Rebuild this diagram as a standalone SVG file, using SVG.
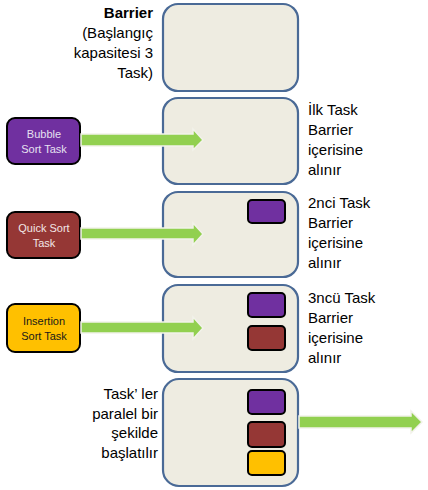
<svg xmlns="http://www.w3.org/2000/svg" width="428" height="490" viewBox="0 0 428 490">
<style>
.barrier{fill:#EEECE1;stroke:#4A6A96;stroke-width:2.2}
.task{stroke:#000;stroke-width:2}
.mini{stroke:#000;stroke-width:2}
.arrow{fill:#92D050;stroke:#F2F2EA;stroke-width:1.5}
.t{font-family:"Liberation Sans",Arial,sans-serif;font-size:15px;fill:#000}
.s{font-family:"Liberation Sans",Arial,sans-serif;font-size:11px;text-anchor:middle}
.purple{fill:#7030A0}.maroon{fill:#953735}.yellow{fill:#FFC000}
</style>
<rect width="428" height="490" fill="#fff"/>
<g id="barrier-empty">
<rect class="barrier" x="163" y="4" width="135" height="87" rx="15"/>
<text class="t" text-anchor="end"><tspan x="153" y="18" font-weight="bold">Barrier</tspan><tspan x="153" y="38">(Başlangıç</tspan><tspan x="153" y="58">kapasitesi 3</tspan><tspan x="153" y="78">Task)</tspan></text>
</g>
<g id="barrier-1">
<rect class="barrier" x="163" y="98" width="135" height="86" rx="15"/>
<text class="t"><tspan x="308" y="115">İlk Task</tspan><tspan x="308" y="135">Barrier</tspan><tspan x="308" y="155">içerisine</tspan><tspan x="308" y="175">alınır</tspan></text>
</g>
<g id="barrier-2">
<rect class="barrier" x="163" y="192" width="135" height="85" rx="15"/>
<rect class="mini purple" x="248" y="200" width="37" height="23" rx="4"/>
<text class="t"><tspan x="308" y="208">2nci Task</tspan><tspan x="308" y="228">Barrier</tspan><tspan x="308" y="248">içerisine</tspan><tspan x="308" y="268">alınır</tspan></text>
</g>
<g id="barrier-3">
<rect class="barrier" x="163" y="285" width="135" height="87" rx="15"/>
<rect class="mini purple" x="248" y="293" width="37" height="24" rx="4"/>
<rect class="mini maroon" x="248" y="326" width="37" height="24" rx="4"/>
<text class="t"><tspan x="308" y="303">3ncü Task</tspan><tspan x="308" y="323">Barrier</tspan><tspan x="308" y="343">içerisine</tspan><tspan x="308" y="363">alınır</tspan></text>
</g>
<g id="barrier-full">
<rect class="barrier" x="163" y="379" width="135" height="107" rx="16"/>
<rect class="mini purple" x="248" y="390" width="37" height="24" rx="4"/>
<rect class="mini maroon" x="248" y="422" width="37" height="25" rx="4"/>
<rect class="mini yellow" x="248" y="451" width="37" height="24" rx="4"/>
<text class="t" text-anchor="end"><tspan x="158" y="399">Task’ ler</tspan><tspan x="158" y="419">paralel bir</tspan><tspan x="158" y="438">şekilde</tspan><tspan x="158" y="458">başlatılır</tspan></text>
</g>
<g id="bubble-task">
<rect class="task purple" x="7" y="118" width="73" height="46" rx="8"/>
<text class="s" fill="#E6E0F0"><tspan x="44" y="138">Bubble</tspan><tspan x="44" y="153">Sort Task</tspan></text>
</g>
<g id="quick-task">
<rect class="task maroon" x="7" y="212" width="73" height="46" rx="8"/>
<text class="s" fill="#F2E6E6"><tspan x="44" y="232">Quick Sort</tspan><tspan x="44" y="247">Task</tspan></text>
</g>
<g id="insertion-task">
<rect class="task yellow" x="7" y="304" width="73" height="48" rx="8"/>
<text class="s" fill="#1a1a1a"><tspan x="44" y="325">Insertion</tspan><tspan x="44" y="340">Sort Task</tspan></text>
</g>
<g id="connectors">
<path class="arrow" d="M81 134 H193 V129 L203 140 L193 150 V146 H81 Z"/>
<path class="arrow" d="M81 228 H193 V223 L203 234 L193 245 V239 H81 Z"/>
<path class="arrow" d="M81 322 H193 V317 L203 328 L193 339 V333 H81 Z"/>
<path class="arrow" d="M299 416 H411 V411 L422 422 L411 433 V428 H299 Z"/>
</g>
</svg>
